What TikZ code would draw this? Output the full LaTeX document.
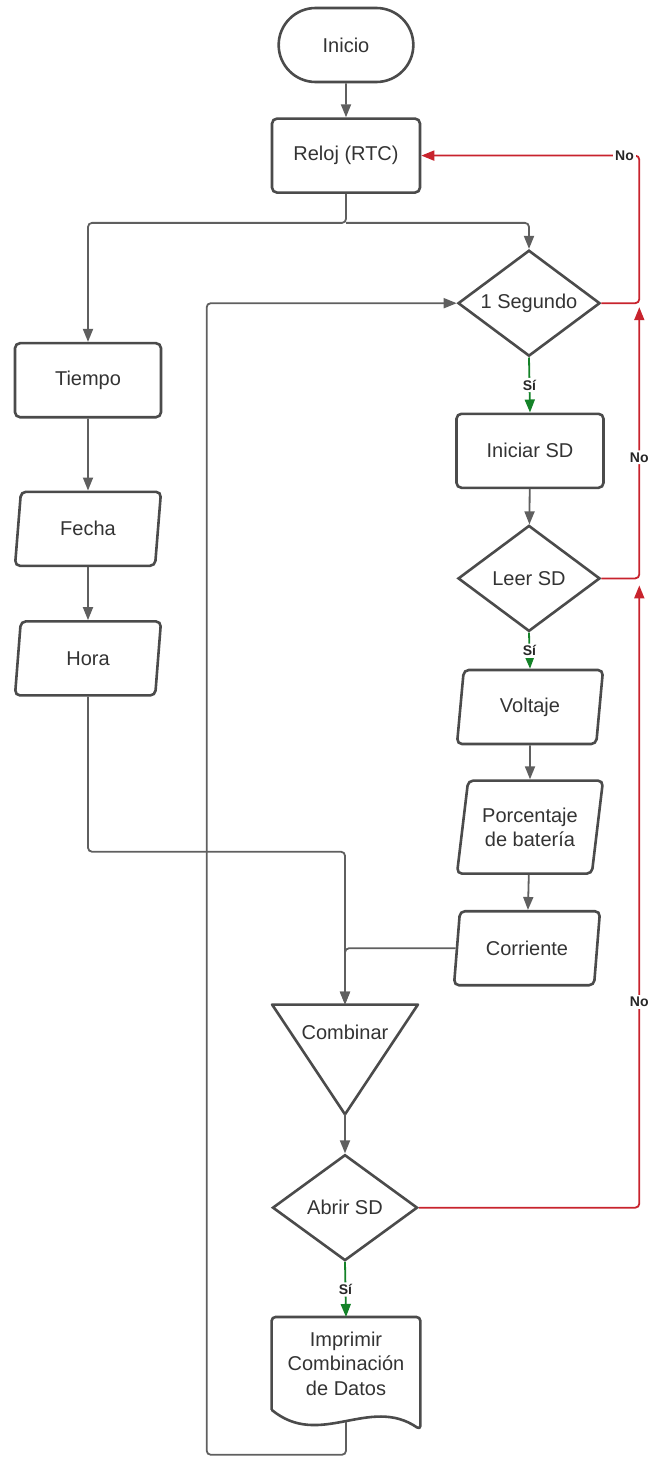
\documentclass[tikz,border=0pt]{standalone}
\usepackage{fontspec}
\setmainfont{Liberation Sans}
\usepackage{xcolor}
\usetikzlibrary{positioning, arrows.meta, calc, shapes.geometric, shapes.misc}

\definecolor{edgegray}{RGB}{75,75,75}
\definecolor{linegray}{RGB}{95,95,95}
\definecolor{txtgray}{RGB}{51,51,51}
\definecolor{noRed}{RGB}{200,35,45}
\definecolor{siGreen}{RGB}{20,130,40}

\begin{document}
\begin{tikzpicture}[
    font=\fontsize{10pt}{12.25pt}\selectfont,
    text=txtgray,
    startbox/.style={
        rounded rectangle,
        draw=edgegray,
        line width=1.3pt,
        minimum width=74pt,
        minimum height=37pt,
        align=center
    },
    procbox/.style={
        rectangle,
        draw=edgegray,
        line width=1.3pt,
        rounded corners=2.5pt,
        minimum width=74pt,
        minimum height=37pt,
        align=center
    },
    decision/.style={
        diamond,
        aspect=1.34,
        draw=edgegray,
        line width=1.3pt,
        inner sep=0pt,
        minimum width=71pt,
        minimum height=53pt,
        align=center
    },
    iobox/.style={
        trapezium,
        trapezium left angle=78,
        trapezium right angle=102,
        trapezium stretches body,
        draw=edgegray,
        line width=1.3pt,
        rounded corners=2.5pt,
        minimum width=73pt,
        minimum height=37pt,
        align=center
    },
    plainbox/.style={
        rectangle,
        draw=none,
        inner sep=0pt,
        align=center
    },
    outline/.style={draw=edgegray, line width=1.3pt, line join=round},
    flowline/.style={draw=linegray, line width=0.9pt, rounded corners=2pt,
        -{Triangle[length=6.5pt,width=5pt]}},
    noline/.style={flowline, draw=noRed, -{Triangle[length=6.5pt,width=5pt,fill=noRed]}},
    siline/.style={flowline, draw=siGreen, -{Triangle[length=6.5pt,width=5pt,fill=siGreen]}},
    tag/.style={
        fill=white,
        inner sep=1pt,
        text=black!85,
        font=\bfseries\fontsize{7pt}{8pt}\selectfont
    }
]
    \useasboundingbox (0,0) rectangle (326.5pt,-730pt);

    % Start + clock
    \node[startbox] (inicio) at (173pt,-22.5pt) {Inicio};
    \node[procbox, below=17pt of inicio] (reloj) {Reloj (RTC)};

    % Left column: time data
    \node[procbox, minimum width=73pt, below=74pt of reloj, xshift=-129pt] (tiempo) {Tiempo};
    \node[iobox, below=36pt of tiempo] (fecha) {Fecha};
    \node[iobox, below=26.5pt of fecha] (hora) {Hora};

    % Right column: SD + sensors
    \node[decision, below=27.5pt of reloj, xshift=91.5pt] (seg) {1 Segundo};
    \node[procbox, minimum width=73.5pt, below=27.5pt of seg, xshift=0.5pt] (iniciar) {Iniciar SD};
    \node[decision, below=17.5pt of iniciar, xshift=-0.5pt] (leer) {Leer SD};
    \node[iobox, below=18pt of leer, xshift=0.5pt] (voltaje) {Voltaje};
    \node[iobox, minimum height=46.5pt, below=17pt of voltaje] (porc) {Porcentaje\\de batería};
    \node[iobox, below=17.5pt of porc, xshift=-1.5pt] (corr) {Corriente};

    % Merge + write
    \node[plainbox, minimum width=72.5pt, minimum height=54.5pt, below=9pt of corr, xshift=-91pt] (comb) {};
    \draw[outline] (comb.north west) -- (comb.north east) -- (comb.south) -- cycle;
    \node at ([yshift=-14pt]comb.north) {Combinar};
    \node[decision, minimum width=72.5pt, below=19.5pt of comb] (abrir) {Abrir SD};
    \node[plainbox, minimum width=74pt, minimum height=46pt, below=27.5pt of abrir, xshift=0.5pt] (imp) {Imprimir\\Combinación\\de Datos};
    \draw[outline, rounded corners=2pt] (imp.south west) -- (imp.north west) -- (imp.north east)
        -- ([yshift=-10pt]imp.south east)
        [sharp corners] .. controls ([xshift=49pt,yshift=7.5pt]imp.south west)
        and ([xshift=24pt,yshift=-20pt]imp.south west) .. (imp.south west);

    % Helper points
    \coordinate (split) at ([yshift=-14.5pt]reloj.south);
    \coordinate (hjoin) at ([yshift=-77.5pt]hora.south);
    \coordinate (busseg) at ([xshift=19pt]seg.east);
    \coordinate (busleer) at (busseg |- leer.east);
    \coordinate (busabrir) at (busseg |- abrir.east);
    \coordinate (impout) at ([yshift=-6pt]imp.south);
    \coordinate (loopbot) at ([yshift=-22.5pt]imp.south);
    \coordinate (loopleft) at ([xshift=-125pt]seg.west);

    % Arrows
    \draw[flowline] (inicio) -- (reloj);
    \draw[flowline] (reloj.south) -- (split) -| (tiempo.north);
    \draw[flowline] (split) -| (seg.north);
    \draw[flowline] (tiempo) -- (fecha);
    \draw[flowline] (fecha) -- (hora);
    \draw[flowline] (hora.south) -- (hjoin) -| (comb.north);
    \draw[siline] (seg.south) -- node[tag] {Sí} (iniciar.north);
    \draw[flowline] (iniciar) -- (leer);
    \draw[siline] (leer.south) -- node[tag] {Sí} (voltaje.north);
    \draw[flowline] (voltaje) -- (porc);
    \draw[flowline] (porc) -- (corr);
    \draw[flowline] (corr.west) -| (comb.north);
    \draw[flowline] (comb.south) -- (abrir.north);
    \draw[siline] (abrir.south) -- node[tag] {Sí} (imp.north);
    \draw[flowline] (impout) -- (loopbot) -| (loopleft) -- (seg.west);

    % No branches
    \draw[noline] (seg.east) -- (busseg) |- node[tag, pos=0.534] {No} (reloj.east);
    \draw[noline, shorten >=2pt] (leer.east) -- (busleer) -- node[tag, pos=0.44] {No} (busseg);
    \draw[noline, shorten >=3.5pt] (abrir.east) -- (busabrir) -- node[tag, pos=0.327] {No} (busleer);
\end{tikzpicture}
\end{document}
